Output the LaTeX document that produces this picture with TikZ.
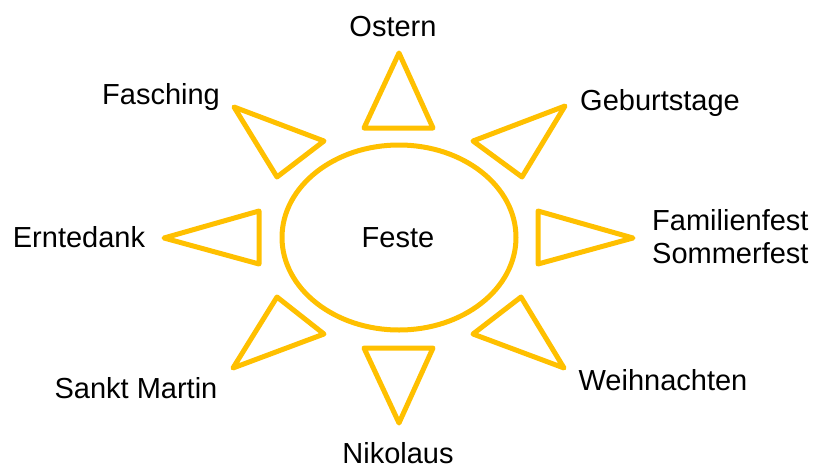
\documentclass[tikz,border=0pt]{standalone}
\usepackage{fontspec}
\setmainfont{Liberation Sans}
\definecolor{sungold}{RGB}{255,192,0}
\begin{document}
\begin{tikzpicture}[x=1pt,y=-1pt,
    ray/.style={draw=sungold,line width=5pt,line join=round},
    lbl/.style={font=\fontsize{29}{33}\selectfont,inner sep=0pt}]
        \useasboundingbox (0,0) rectangle (814,466);
        \draw[ray] (399,237.5) ellipse (117 and 92.5);
        \foreach \ax/\ay/\bx/\by/\cx/\cy in {399/53/433/128/364/128,565/106/522/177/473/141,
            633/238/538/264/538/211,564/368/473/334/521/297,399/423/364/348/433/348,
            233/368/277/297/324/334,164/238/259/211/259/264,234/107/324/141/277/177} {
            \draw[ray] (\ax,\ay) -- (\bx,\by) -- (\cx,\cy) -- cycle;
          }
        \node[lbl] (feste) at (398,238) {Feste};
        \node[lbl] (ostern) at (393,27) {Ostern};
        \node[lbl] (fasching) at (161,97) {Fasching};
        \node[lbl] (geburtstage) at (660,103) {Geburtstage};
        \node[lbl] (erntedank) at (79,237) {Erntedank};
        \node[lbl,align=left,anchor=west] (sommerfest) at (652,237) {Familienfest\\Sommerfest};
        \node[lbl] (weihnachten) at (663,380) {Weihnachten};
        \node[lbl] (martin) at (136,388) {Sankt Martin};
        \node[lbl] (nikolaus) at (398,453) {Nikolaus};
      \end{tikzpicture}
\end{document}
